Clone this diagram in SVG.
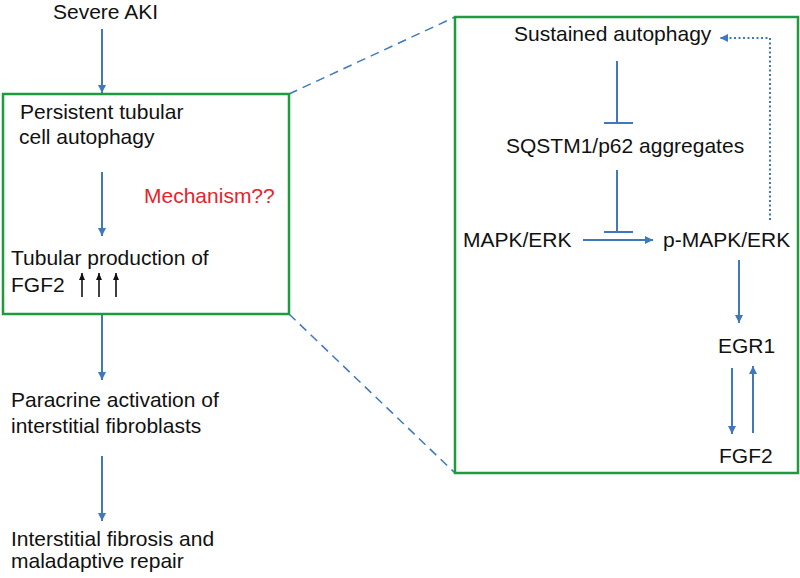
<svg xmlns="http://www.w3.org/2000/svg" width="800" height="578" viewBox="0 0 800 578">
<style>
text{font-family:"Liberation Sans",Arial,sans-serif;font-size:21px;fill:#111}
.box{fill:none;stroke:#1e9b3e;stroke-width:2.5}
.ar{fill:none;stroke:#3f78bd;stroke-width:2;marker-end:url(#ah)}
.inh{fill:none;stroke:#3f78bd;stroke-width:2}
.dash{fill:none;stroke:#3f78bd;stroke-width:1.5;stroke-dasharray:9,6}
.dot{fill:none;stroke:#3f78bd;stroke-width:2;stroke-dasharray:2,2.5}
.up{fill:none;stroke:#111;stroke-width:1.6;marker-end:url(#bh)}
</style>
<defs>
<marker id="ah" markerUnits="userSpaceOnUse" markerWidth="9" markerHeight="9" refX="8" refY="4" orient="auto"><path d="M0,0 L8,4 L0,8 z" fill="#3f78bd"/></marker>
<marker id="bh" markerUnits="userSpaceOnUse" markerWidth="8" markerHeight="8" refX="7" refY="3" orient="auto"><path d="M0,0 L7,3 L0,6 z" fill="#111"/></marker>
</defs>
<g id="connectors">
<line class="ar" x1="102" y1="29" x2="102" y2="93"/>
<line class="ar" x1="102" y1="172" x2="102" y2="236"/>
<line class="ar" x1="102" y1="315" x2="102" y2="380"/>
<line class="ar" x1="102" y1="456" x2="102" y2="521"/>
<line class="dash" x1="289" y1="94" x2="455" y2="17"/>
<line class="dash" x1="289" y1="314" x2="455" y2="473"/>
<path class="inh" d="M617,61 V123 M604,123 H633"/>
<path class="inh" d="M617,170 V232 M604,232 H633"/>
<line class="ar" x1="583" y1="240" x2="653" y2="240"/>
<polyline class="dot" points="770,220 770,38 720,38" marker-end="url(#ah)"/>
<line class="ar" x1="739" y1="260" x2="739" y2="323"/>
<line class="ar" x1="732" y1="368" x2="732" y2="434"/>
<line class="ar" x1="753" y1="433" x2="753" y2="366"/>
<line class="up" x1="82" y1="297" x2="82" y2="273"/>
<line class="up" x1="99" y1="297" x2="99" y2="273"/>
<line class="up" x1="116" y1="297" x2="116" y2="273"/>
</g>
<g id="severe-aki"><text x="53" y="19">Severe AKI</text></g>
<g id="left-box">
<rect class="box" x="3" y="94" width="286" height="220"/>
<text x="20" y="119">Persistent tubular</text>
<text x="19" y="144">cell autophagy</text>
<text x="144" y="203" style="fill:#e8222a">Mechanism??</text>
<text x="11" y="265">Tubular production of</text>
<text x="11" y="292">FGF2</text>
</g>
<g id="paracrine"><text x="11" y="407">Paracrine activation of</text><text x="11" y="433">interstitial fibroblasts</text></g>
<g id="fibrosis"><text x="11" y="546">Interstitial fibrosis and</text><text x="11" y="568">maladaptive repair</text></g>
<g id="right-box"><rect class="box" x="455" y="17" width="343" height="456"/></g>
<g id="sustained"><text x="514" y="41">Sustained autophagy</text></g>
<g id="sqstm1"><text x="506" y="153">SQSTM1/p62 aggregates</text></g>
<g id="mapk"><text x="463" y="247">MAPK/ERK</text></g>
<g id="pmapk"><text x="663" y="247">p-MAPK/ERK</text></g>
<g id="egr1"><text x="718" y="353">EGR1</text></g>
<g id="fgf2"><text x="719" y="463">FGF2</text></g>
</svg>
